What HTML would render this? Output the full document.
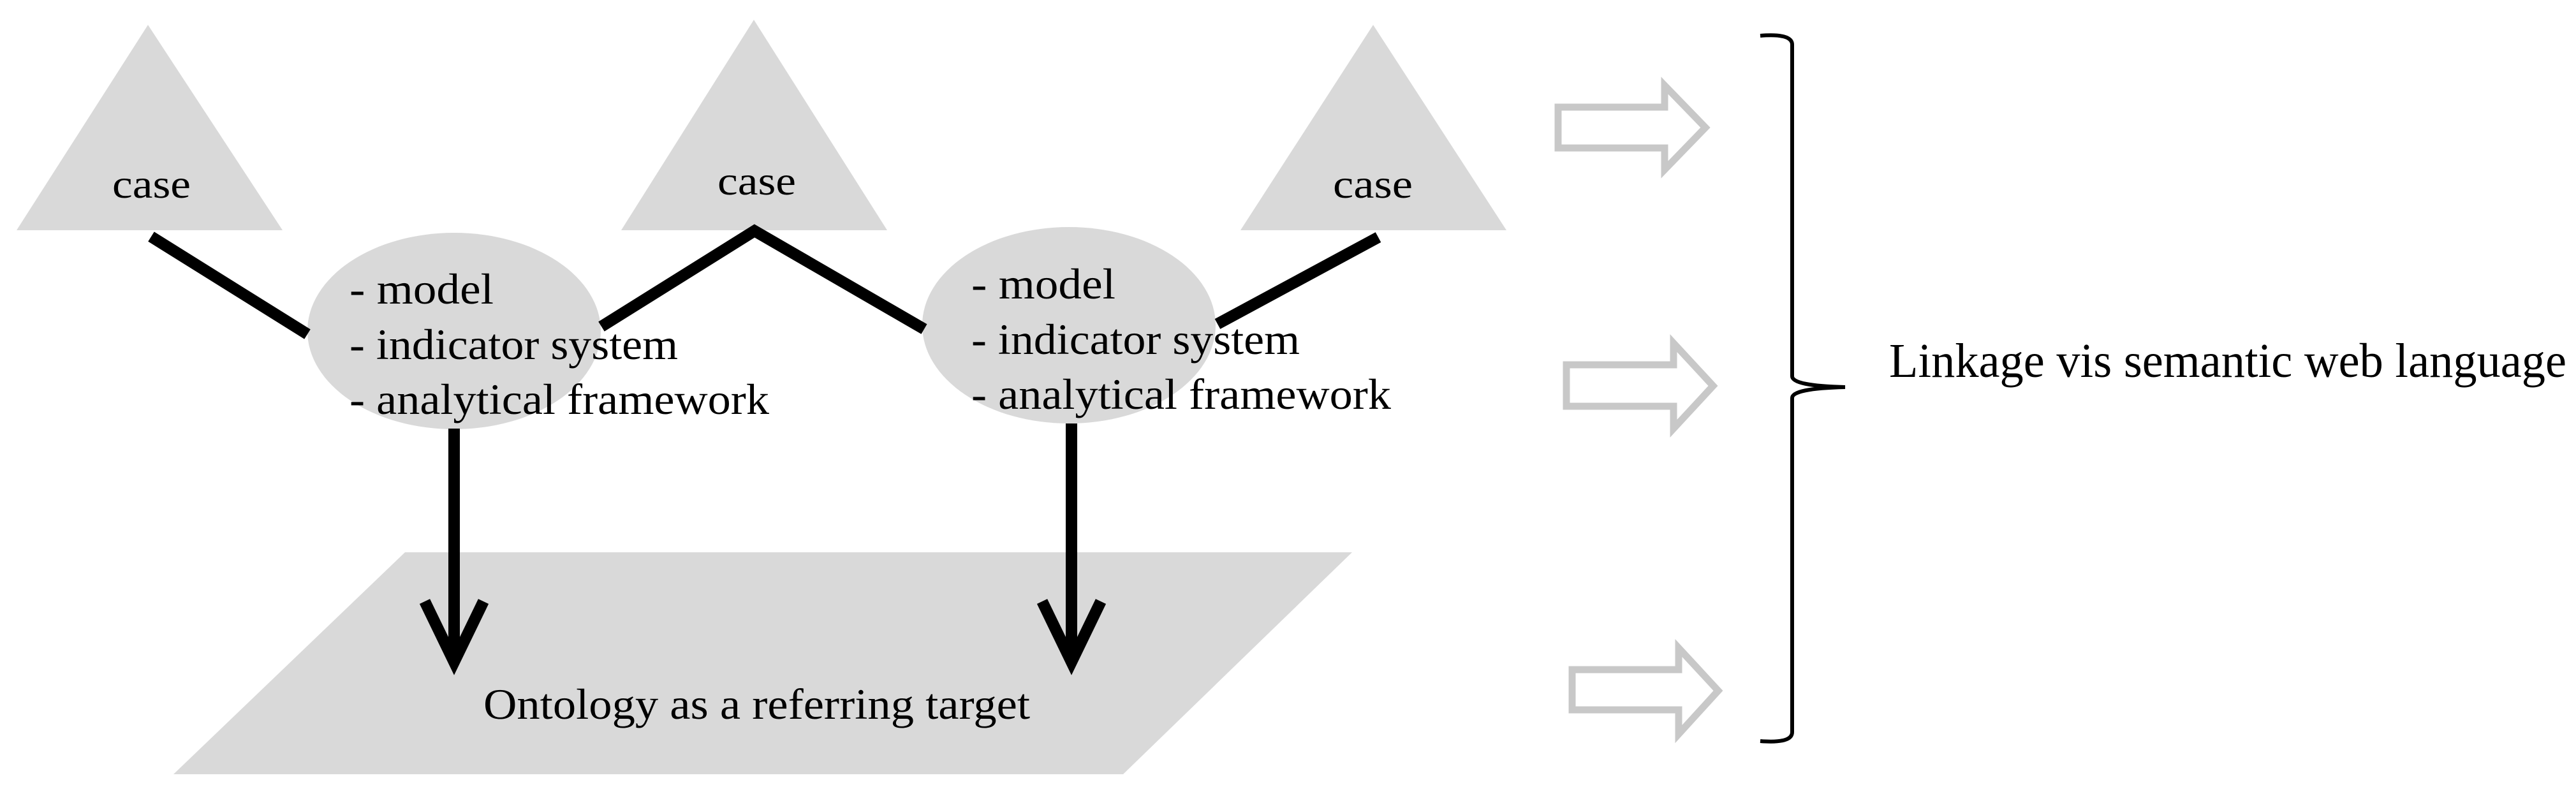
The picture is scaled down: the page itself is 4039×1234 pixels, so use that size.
<!DOCTYPE html>
<html><head><meta charset="utf-8"><style>html,body{margin:0;padding:0;background:#fff;}svg{display:block}</style></head>
<body>
<svg width="4039" height="1234" viewBox="0 0 4039 1234" xmlns="http://www.w3.org/2000/svg" font-family="'Liberation Serif', serif" fill="#000">
<polygon points="635,866 2120,866 1761,1214 272,1214" fill="#d9d9d9"/>
<polygon points="232,39 443,361 26,361" fill="#d9d9d9"/>
<polygon points="1182,31 1391,361 974,361" fill="#d9d9d9"/>
<polygon points="2153,39 2362,361 1945,361" fill="#d9d9d9"/>
<ellipse cx="712" cy="519" rx="230" ry="154" fill="#d9d9d9"/>
<ellipse cx="1676" cy="510" rx="230" ry="154" fill="#d9d9d9"/>
<g stroke="#000" stroke-width="18" fill="none">
<line x1="237" y1="371" x2="482" y2="524"/>
<polyline points="943,512 1183,362 1449,516"/>
<line x1="1909" y1="508" x2="2161" y2="372"/>
<line x1="712" y1="672" x2="712" y2="1030"/>
<line x1="1680" y1="664" x2="1680" y2="1030"/>
<polyline points="666,943 712,1038 758,943" stroke-linejoin="miter"/>
<polyline points="1634,943 1680,1038 1726,943" stroke-linejoin="miter"/>
</g>
<g font-size="64">
<text x="176" y="310" textLength="123" lengthAdjust="spacingAndGlyphs">case</text>
<text x="1125" y="305" textLength="123" lengthAdjust="spacingAndGlyphs">case</text>
<text x="2090" y="310" textLength="125" lengthAdjust="spacingAndGlyphs">case</text>
</g>
<g font-size="68">
<text x="548" y="476" textLength="226" lengthAdjust="spacingAndGlyphs">- model</text>
<text x="548" y="563" textLength="515" lengthAdjust="spacingAndGlyphs">- indicator system</text>
<text x="548" y="649" textLength="658" lengthAdjust="spacingAndGlyphs">- analytical framework</text>
<text x="1523" y="468" textLength="226" lengthAdjust="spacingAndGlyphs">- model</text>
<text x="1523" y="555" textLength="515" lengthAdjust="spacingAndGlyphs">- indicator system</text>
<text x="1523" y="641" textLength="658" lengthAdjust="spacingAndGlyphs">- analytical framework</text>
<text x="758" y="1127" textLength="857" lengthAdjust="spacingAndGlyphs">Ontology as a referring target</text>
</g>
<g fill="none" stroke="#c8c8c8" stroke-width="11">
<polygon points="2443,168 2610,168 2610,134 2674,200 2610,266 2610,232 2443,232"/>
<polygon points="2456,572 2624,572 2624,538 2686,605 2624,672 2624,637 2456,637"/>
<polygon points="2465,1050 2632,1050 2632,1016 2694,1083 2632,1151 2632,1113 2465,1113"/>
</g>
<path d="M2760,56 Q2810,52 2810,70 L2810,590 Q2810,605 2893,607 Q2810,609 2810,624 L2810,1148 Q2810,1166 2760,1162" fill="none" stroke="#000" stroke-width="6"/>
<text x="2962" y="591" font-size="76" textLength="1062" lengthAdjust="spacingAndGlyphs">Linkage vis semantic web language</text>
</svg>
</body></html>
